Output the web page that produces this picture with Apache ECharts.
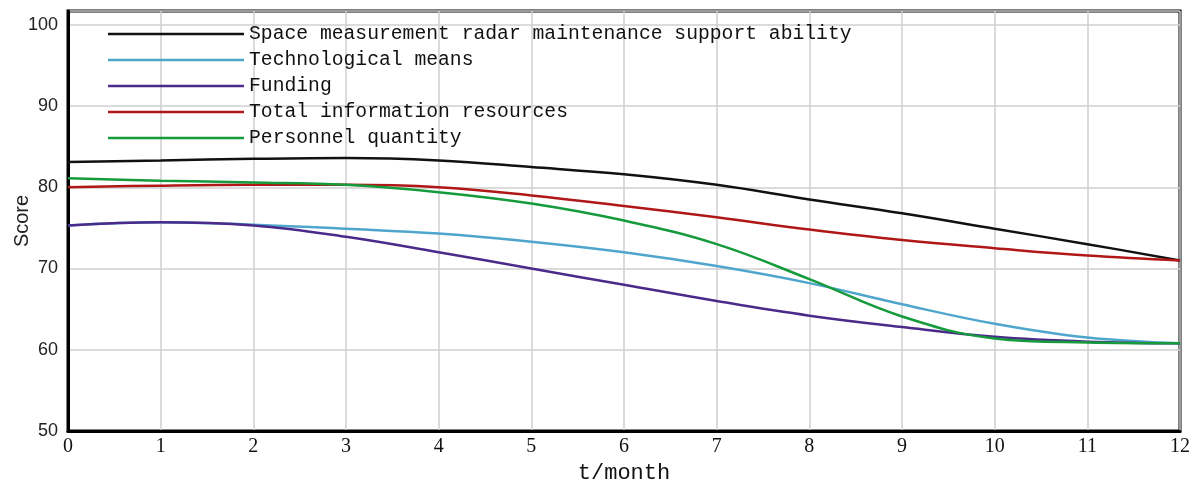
<!DOCTYPE html>
<html>
<head>
<meta charset="utf-8">
<script src="https://cdn.jsdelivr.net/npm/echarts@6/dist/echarts.min.js"></script>
<style>
  html, body { margin: 0; padding: 0; background: #fff; }
  #chart { width: 1194px; height: 482px; }
</style>
</head>
<body>
<div id="chart"></div>
<script>
  // months on the x axis
  var months = [0, 1, 2, 3, 4, 5, 6, 7, 8, 9, 10, 11, 12];
  var yTicks = [50, 60, 70, 80, 90, 100];

  // scores
  var radarAbility  = [83.1, 83.3, 83.5, 83.6, 83.3, 82.5, 81.6, 80.3, 78.5, 76.8, 74.9, 73.0, 71.0];
  var techMeans     = [75.3, 75.7, 75.4, 74.9, 74.3, 73.3, 72.0, 70.3, 68.2, 65.6, 63.2, 61.5, 60.8];
  var funding       = [75.3, 75.7, 75.3, 73.9, 72.0, 70.0, 68.0, 66.0, 64.2, 62.8, 61.6, 61.0, 60.8];
  var infoResources = [80.0, 80.2, 80.3, 80.3, 80.0, 79.0, 77.7, 76.3, 74.8, 73.5, 72.5, 71.6, 71.0];
  var personnel     = [81.1, 80.8, 80.6, 80.3, 79.4, 78.0, 75.9, 73.0, 68.7, 64.1, 61.4, 60.9, 60.8];

  var names = [
    'Space measurement radar maintenance support ability',
    'Technological means',
    'Funding',
    'Total information resources',
    'Personnel quantity'
  ];
  var colors = ['#111111', '#4fa6cc', '#4a2a8a', '#b01818', '#159a3c'];
  var values = [radarAbility, techMeans, funding, infoResources, personnel];

  function pairs(arr) {
    var out = [];
    for (var i = 0; i < months.length; i++) {
      out.push([months[i], arr[i]]);
    }
    return out;
  }

  var series = [];
  for (var k = 0; k < names.length; k++) {
    series.push({
      name: names[k],
      type: 'line',
      smooth: 0.4,
      symbol: 'none',
      color: colors[k],
      lineStyle: { color: colors[k], width: 2.5 },
      data: pairs(values[k])
    });
  }

  var myChart = echarts.init(document.getElementById('chart'));
  myChart.setOption({
    animation: false,
    backgroundColor: '#fff',
    color: colors,
    grid: {
      left: 68, right: 14, top: 11, bottom: 51,
      outerBoundsMode: 'none',
      containLabel: false,
      show: true,
      borderColor: '#000',
      borderWidth: 3
    },
    legend: {
      show: true,
      orient: 'vertical',
      left: 108,
      top: 24,
      padding: 0,
      icon: 'rect',
      itemWidth: 136,
      itemHeight: 2.5,
      itemGap: 6,
      textStyle: {
        fontFamily: 'Liberation Mono',
        fontSize: 19.7,
        color: '#111'
      },
      data: names
    },
    xAxis: {
      type: 'value',
      min: 0,
      max: 12,
      interval: 1,
      name: 't/month',
      nameLocation: 'middle',
      nameGap: 28,
      nameTextStyle: { fontFamily: 'Liberation Mono', fontSize: 22, color: '#111' },
      axisLine: { lineStyle: { color: '#000', width: 3 } },
      axisTick: { show: false },
      axisLabel: { fontFamily: 'Liberation Serif', fontSize: 20, color: '#111', margin: 6 },
      splitLine: { lineStyle: { color: '#cfcfcf', width: 1.5 } }
    },
    yAxis: {
      type: 'value',
      min: yTicks[0],
      max: 101.7,
      interval: 10,
      name: 'Score',
      nameLocation: 'middle',
      nameGap: 36,
      nameMoveOverlap: false,
      nameTextStyle: { fontFamily: 'Liberation Sans', fontSize: 20, color: '#222' },
      axisLine: { lineStyle: { color: '#000', width: 3 } },
      axisTick: { show: false },
      axisLabel: {
        fontFamily: 'Liberation Sans',
        fontSize: 18,
        color: '#222',
        margin: 10,
        formatter: function (v) { return yTicks.indexOf(v) >= 0 ? String(v) : ''; }
      },
      splitLine: { lineStyle: { color: '#cfcfcf', width: 1.5 } }
    },
    series: series
  });
</script>
</body>
</html>
